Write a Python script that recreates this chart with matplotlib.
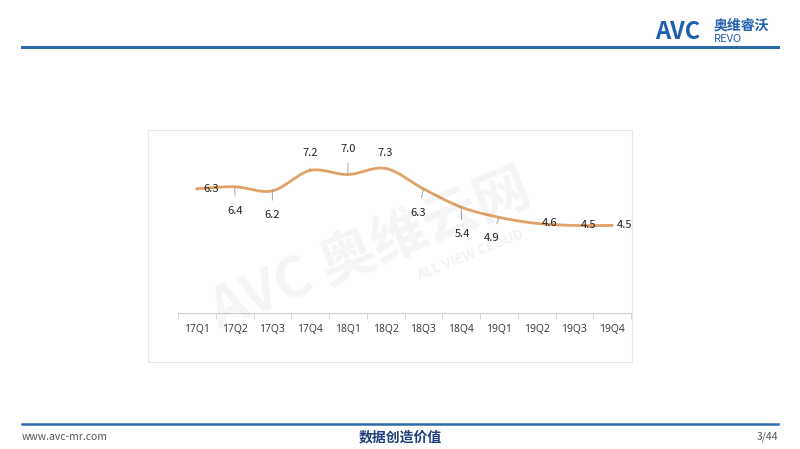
import numpy as np
import matplotlib.pyplot as plt

plt.rcParams['font.family'] = ['Noto Sans CJK SC', 'DejaVu Sans']

quarters = ["17Q1", "17Q2", "17Q3", "17Q4", "18Q1", "18Q2", "18Q3", "18Q4", "19Q1", "19Q2", "19Q3", "19Q4"]
values = [6.3, 6.4, 6.2, 7.2, 7.0, 7.3, 6.3, 5.4, 4.9, 4.6, 4.5, 4.5]
# label offsets in pixels (dx, dy)
offsets = [(14, 0), (1, -24), (0, -24), (0, 17), (0, 26), (0, 15), (-5, -24), (1, -27), (-7, -21), (13, 0), (14, 0), (12, 0)]

W, H = 800, 449
fig = plt.figure(figsize=(8, 4.49), dpi=100)

def fx(px): return px / W
def fy(py): return 1 - py / H

# header / footer lines
fig.add_artist(plt.Line2D([fx(22), fx(778)], [fy(47), fy(47)], color="#2e6aa6", lw=2.2))
fig.add_artist(plt.Line2D([fx(22), fx(778)], [fy(424), fy(424)], color="#2e6aa6", lw=1.8))
fig.text(fx(655), fy(32), "AVC", color="#1f5fae", fontsize=17, fontweight="bold", style="italic", va="center")
fig.text(fx(714), fy(26), "奥维睿沃", color="#1f5fae", fontsize=10, fontweight="bold", va="center")
fig.text(fx(714), fy(39), "REVO", color="#1f5fae", fontsize=8, va="center")
fig.text(fx(22), fy(437), "www.avc-mr.com", color="#555555", fontsize=7.5, va="center")
fig.text(0.5, fy(437), "数据创造价值", color="#1f3f7a", fontsize=10, fontweight="bold", ha="center", va="center", style="italic")
fig.text(fx(778), fy(437), "3/44", color="#555555", fontsize=7.5, ha="right", va="center")

# chart frame
fig.add_artist(plt.Rectangle((fx(148), fy(362)), (632 - 148) / W, (362 - 130) / H,
                             fill=False, ec="#e6e6e6", lw=0.8))

ax = fig.add_axes([fx(178), fy(313), (631 - 178) / W, (313 - 144) / H])
x = np.arange(len(quarters))
y = np.array(values)

# Catmull-Rom smoothing of the drawn line
xs, ys = [], []
px = np.concatenate([[x[0]], x, [x[-1]]]).astype(float)
py = np.concatenate([[y[0]], y, [y[-1]]])
for i in range(1, len(px) - 2):
    t = np.linspace(0, 1, 20)
    for arr, out in ((px, xs), (py, ys)):
        p0, p1, p2, p3 = arr[i - 1], arr[i], arr[i + 1], arr[i + 2]
        out.extend(0.5 * (2 * p1 + (-p0 + p2) * t + (2 * p0 - 5 * p1 + 4 * p2 - p3) * t ** 2
                          + (-p0 + 3 * p1 - 3 * p2 + p3) * t ** 3))
ax.plot(xs, ys, color="#e0a266", lw=2)

for xi, yi, (dx, dy) in zip(x, y, offsets):
    ax.annotate(f"{yi:.1f}", (xi, yi), xytext=(dx * 0.72, dy * 0.72), textcoords="offset points",
                ha="center", va="center", fontsize=8, color="#222222",
                arrowprops=dict(arrowstyle="-", color="#999999", lw=0.6, shrinkA=5, shrinkB=0)
                if dy != 0 else None)

ax.set_xlim(-0.5, len(quarters) - 0.5)
ax.set_ylim(0.2, 8.5)
ax.set_xticks(x)
ax.set_xticklabels(quarters, fontsize=7.5, color="#333333", family=["Open Sans", "DejaVu Sans"])
ax.set_xticks(np.arange(-0.5, len(quarters)), minor=True)
ax.tick_params(axis="x", which="major", length=0, pad=8)
ax.tick_params(axis="x", which="minor", length=4, color="#d0d0d0")
ax.set_yticks([])
for s in ["top", "right", "left"]:
    ax.spines[s].set_visible(False)
ax.spines["bottom"].set_color("#d0d0d0")
ax.patch.set_alpha(0)

# watermark
fig.text(fx(370), fy(250), "AVC 奥维云网", color="#000000", alpha=0.045, fontsize=40, fontweight="bold",
         rotation=22, ha="center", va="center")
fig.text(fx(470), fy(255), "ALL VIEW CLOUD", color="#000000", alpha=0.05, fontsize=10, fontweight="bold",
         rotation=22, ha="center", va="center")

fig.savefig("out.png", dpi=100)
